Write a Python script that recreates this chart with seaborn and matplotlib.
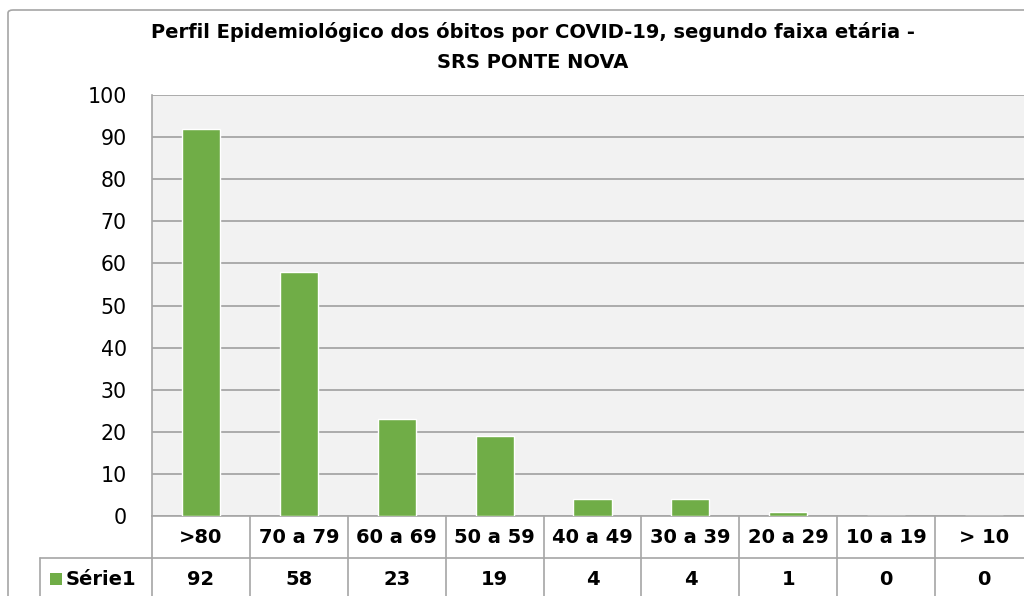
import matplotlib
matplotlib.use("Agg")
import matplotlib.pyplot as plt
import matplotlib.transforms as mtransforms
from matplotlib.patches import Rectangle, FancyBboxPatch
import seaborn as sns

# dados
faixas = [">80", "70 a 79", "60 a 69", "50 a 59", "40 a 49", "30 a 39", "20 a 29", "10 a 19", "> 10"]
obitos = [92, 58, 23, 19, 4, 4, 1, 0, 0]
serie = "Série1"
titulo = ["Perfil Epidemiológico dos óbitos por COVID-19, segundo faixa etária -",
          "SRS PONTE NOVA"]

verde = "#70AD47"
cinza = "#A6A6A6"

sns.set_style("white")
plt.rcParams["font.family"] = ["DejaVu Sans"]
plt.rcParams["text.color"] = "black"

fig = plt.figure(figsize=(10.24, 5.96), dpi=100)
fig.patch.set_facecolor("white")

# borda externa do gráfico
fig.patches.append(FancyBboxPatch((8 / 1024, -0.1), 1.1, 1 - 10 / 596 + 0.1,
                                  boxstyle="round,pad=0,rounding_size=0.005",
                                  transform=fig.transFigure, fill=False,
                                  edgecolor=cinza, linewidth=1.2))

ax = fig.add_axes([152 / 1024, 80 / 596, 881 / 1024, 421 / 596])
ax.set_facecolor("#F2F2F2")

sns.barplot(x=faixas, y=obitos, color=verde, saturation=1, width=0.39,
            edgecolor="white", linewidth=1, ax=ax, zorder=3)

ax.set_xlim(-0.5, len(faixas) - 0.5)
ax.set_ylim(0, 100)
ax.set_yticks(range(0, 101, 10))
ax.yaxis.grid(True, color="#A0A0A0", linewidth=1.2, zorder=0)
ax.set_axisbelow(True)
ax.tick_params(axis="y", length=0, pad=18, labelsize=14.8, labelcolor="black")
ax.tick_params(axis="x", length=0, labelbottom=False)
ax.set_xlabel("")
ax.set_ylabel("")
for s in ["top", "right"]:
    ax.spines[s].set_visible(False)
for s in ["left", "bottom"]:
    ax.spines[s].set_color(cinza)
    ax.spines[s].set_linewidth(1.2)

# título
fig.text(533 / 1024, 1 - 32 / 596, titulo[0], ha="center", va="center",
         fontsize=14, fontweight="bold", color="black")
fig.text(533 / 1024, 1 - 62 / 596, titulo[1], ha="center", va="center",
         fontsize=14, fontweight="bold", color="black")

# tabela de dados
trans = mtransforms.blended_transform_factory(ax.transData, ax.transAxes)
for i, (cat, val) in enumerate(zip(faixas, obitos)):
    ax.text(i, -0.05, cat, transform=trans, ha="center", va="center",
            fontsize=14, fontweight="bold", color="black", clip_on=False)
    ax.text(i, -0.15, str(val), transform=trans, ha="center", va="center",
            fontsize=14, fontweight="bold", color="black", clip_on=False)
for i in range(len(faixas) + 1):
    ax.plot([i - 0.5, i - 0.5], [0, -0.3], transform=trans, color=cinza,
            linewidth=1.2, clip_on=False)

left_cell = (40 - 152) / 881
ax.plot([left_cell, 1.05], [-0.1, -0.1], transform=ax.transAxes, color=cinza,
        linewidth=1.2, clip_on=False)
ax.plot([left_cell, left_cell], [-0.1, -0.3], transform=ax.transAxes, color=cinza,
        linewidth=1.2, clip_on=False)
ax.add_patch(Rectangle(((50 - 152) / 881, -0.15 - 0.0145), 12 / 881, 0.029,
                       transform=ax.transAxes, facecolor=verde, edgecolor="none",
                       clip_on=False))
ax.text((66 - 152) / 881, -0.15, serie, transform=ax.transAxes, ha="left",
        va="center", fontsize=14, fontweight="bold", color="black", clip_on=False)

fig.savefig("out.png", dpi=100)
